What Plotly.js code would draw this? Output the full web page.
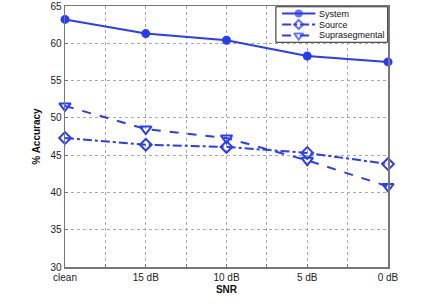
<!DOCTYPE html>
<html><head><meta charset="utf-8">
<script src="https://cdn.plot.ly/plotly-3.0.1.min.js"></script>
<style>html,body{margin:0;padding:0;background:#fff}#c{width:429px;height:305px}</style>
</head><body><div id="c"></div>
<script>
const categories = ['clean', '15 dB', '10 dB', '5 dB', '0 dB'];
const systemVals = [63.2, 61.3, 60.4, 58.3, 57.5];
const sourceVals = [47.3, 46.4, 46.1, 45.3, 43.8];
const supraVals = [51.6, 48.5, 47.3, 44.3, 40.8];
const seriesNames = ['System', 'Source', 'Suprasegmental'];

const xIdx = categories.map((_, i) => i);
const tickvals = [], ticktext = [];
for (let i = 0; i < categories.length; i++) {
  tickvals.push(i); ticktext.push(categories[i]);
  if (i < categories.length - 1) { tickvals.push(i + 0.5); ticktext.push(''); }
}
const blue = 'rgb(40,60,255)';
const styles = [
  {dash: 'solid', symbol: 'circle', size: 7, lsize: 6},
  {dash: 'dashdot', symbol: 'diamond-open', size: 9, lsize: 7},
  {dash: 'dash', symbol: 'triangle-down-open', size: 10, lsize: 8}
];
const seriesVals = [systemVals, sourceVals, supraVals];
const traces = seriesVals.map((vals, k) => ({
  x: xIdx, y: vals, name: seriesNames[k], mode: 'lines+markers', showlegend: false,
  line: {color: blue, width: 2, dash: styles[k].dash},
  marker: {symbol: styles[k].symbol, size: styles[k].size, color: blue, line: {width: 2, color: blue}},
  cliponaxis: false
}));

// Custom compact legend (layout decoration, in axis-fraction coordinates)
const LEG = {x0: 0.653, x1: 0.999, y0: 0.861, y1: 0.997, sx0: 0.672, sx1: 0.775, tx: 0.782,
             rows: [0.971, 0.929, 0.887]};
traces.push({
  x: [LEG.x0, LEG.x1, LEG.x1, LEG.x0, LEG.x0], y: [LEG.y0, LEG.y0, LEG.y1, LEG.y1, LEG.y0],
  xaxis: 'x2', yaxis: 'y2', mode: 'lines', fill: 'toself', fillcolor: '#fff',
  line: {color: '#222', width: 1}, showlegend: false, hoverinfo: 'skip', cliponaxis: false
});
const annotations = [];
seriesNames.forEach((name, k) => {
  const sx = [LEG.sx0, (LEG.sx0 + LEG.sx1) / 2, LEG.sx1];
  traces.push({
    x: sx, y: [LEG.rows[k], LEG.rows[k], LEG.rows[k]], xaxis: 'x2', yaxis: 'y2',
    mode: 'lines+markers', showlegend: false, hoverinfo: 'skip', cliponaxis: false,
    line: {color: blue, width: 2, dash: styles[k].dash},
    marker: {symbol: styles[k].symbol, size: [0, styles[k].lsize, 0], color: blue,
             line: {width: 2, color: blue}}
  });
  annotations.push({xref: 'paper', yref: 'paper', x: LEG.tx, y: LEG.rows[k], text: name,
    showarrow: false, xanchor: 'left', yanchor: 'middle', borderpad: 0,
    font: {size: 9, color: '#111'}});
});

const layout = {
  width: 429, height: 305,
  margin: {l: 65, r: 41, t: 6, b: 38},
  paper_bgcolor: '#fff', plot_bgcolor: '#fff',
  font: {family: 'Liberation Sans, Arial, sans-serif', size: 10, color: '#222'},
  showlegend: false,
  annotations: annotations,
  xaxis: {range: [0, 4], tickmode: 'array', tickvals: tickvals, ticktext: ticktext,
          showgrid: true, gridcolor: '#aaa', griddash: 'dot', gridwidth: 1,
          zeroline: false, showline: true, linecolor: '#777', linewidth: 1.5, mirror: true,
          ticks: 'inside', ticklen: 3, tickcolor: '#777',
          title: {text: '<b>SNR</b>', font: {size: 10, color: '#111'}, standoff: 4}},
  yaxis: {range: [30, 65], dtick: 5, showgrid: true, gridcolor: '#aaa', griddash: 'dot', gridwidth: 1,
          zeroline: false, showline: true, linecolor: '#777', linewidth: 1.5, mirror: true,
          ticks: 'inside', ticklen: 3, tickcolor: '#777',
          title: {text: '<b>% Accuracy</b>', font: {size: 10, color: '#111'}, standoff: 8}},
  xaxis2: {overlaying: 'x', range: [0, 1], visible: false, fixedrange: true},
  yaxis2: {overlaying: 'y', range: [0, 1], visible: false, fixedrange: true}
};
Plotly.newPlot('c', traces, layout, {displayModeBar: false, staticPlot: true});
</script></body></html>
